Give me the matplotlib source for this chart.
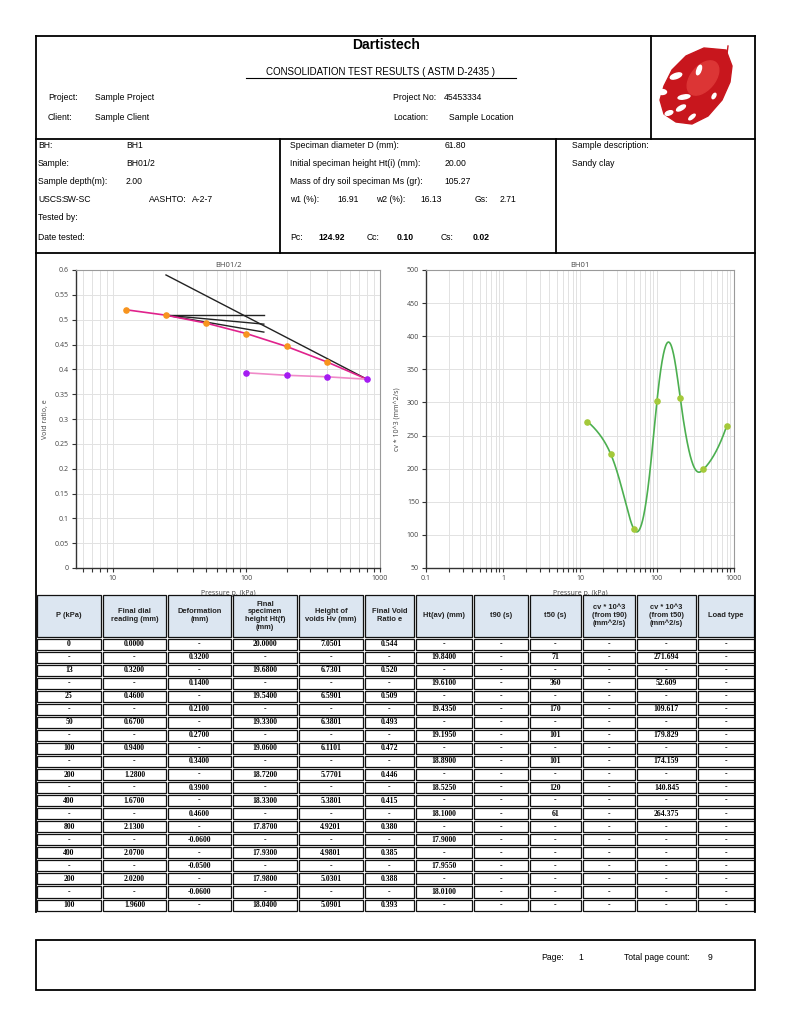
import numpy as np
import matplotlib
matplotlib.use('Agg')
import matplotlib.pyplot as plt
from matplotlib.patches import Rectangle, Ellipse, Polygon
from matplotlib.ticker import FixedLocator, FuncFormatter, LogLocator, NullFormatter

plt.rcParams['font.family'] = ['Liberation Sans Narrow', 'Liberation Sans', 'DejaVu Sans']

# ---- e - log p data ----
load_p = [12.5, 25, 50, 100, 200, 400, 800]
load_e = [0.520, 0.509, 0.493, 0.472, 0.446, 0.415, 0.380]
unload_p = [800, 400, 200, 100]
unload_e = [0.380, 0.385, 0.388, 0.393]
# Casagrande construction lines
vcl_p, vcl_e = [25, 800], [0.590, 0.380]
horiz_p, horiz_e = [25, 135], [0.509, 0.509]
tang_p, tang_e = [25, 135], [0.509, 0.475]
bisect_p, bisect_e = [25, 135], [0.509, 0.491]

# ---- cv data ----
cv_p = [12.5, 25, 50, 100, 200, 400, 800]
cv_vals = [271.2, 222.4, 108.8, 302.4, 306.9, 198.8, 263.7]

# ---- table ----
col_heads = ['P (kPa)', 'Final dial\nreading (mm)', 'Deformation\n(mm)',
             'Final\nspecimen\nheight Ht(f)\n(mm)', 'Height of\nvoids Hv (mm)',
             'Final Void\nRatio e', 'Ht(av) (mm)', 't90 (s)', 't50 (s)',
             'cv * 10^3\n(from t90)\n(mm^2/s)', 'cv * 10^3\n(from t50)\n(mm^2/s)',
             'Load type']
col_p = ['0', '-', '13', '-', '25', '-', '50', '-', '100', '-', '200', '-', '400',
         '-', '800', '-', '400', '-', '200', '-', '100']
col_dial = ['0.0000', '-', '0.3200', '-', '0.4600', '-', '0.6700', '-', '0.9400', '-',
            '1.2800', '-', '1.6700', '-', '2.1300', '-', '2.0700', '-', '2.0200', '-', '1.9600']
col_def = ['-', '0.3200', '-', '0.1400', '-', '0.2100', '-', '0.2700', '-', '0.3400', '-',
           '0.3900', '-', '0.4600', '-', '-0.0600', '-', '-0.0500', '-', '-0.0600', '-']
col_htf = ['20.0000', '-', '19.6800', '-', '19.5400', '-', '19.3300', '-', '19.0600', '-',
           '18.7200', '-', '18.3300', '-', '17.8700', '-', '17.9300', '-', '17.9800', '-', '18.0400']
col_hv = ['7.0501', '-', '6.7301', '-', '6.5901', '-', '6.3801', '-', '6.1101', '-',
          '5.7701', '-', '5.3801', '-', '4.9201', '-', '4.9801', '-', '5.0301', '-', '5.0901']
col_e = ['0.544', '-', '0.520', '-', '0.509', '-', '0.493', '-', '0.472', '-', '0.446', '-',
         '0.415', '-', '0.380', '-', '0.385', '-', '0.388', '-', '0.393']
col_htav = ['-', '19.8400', '-', '19.6100', '-', '19.4350', '-', '19.1950', '-', '18.8900', '-',
            '18.5250', '-', '18.1000', '-', '17.9000', '-', '17.9550', '-', '18.0100', '-']
col_t90 = ['-'] * 21
col_t50 = ['-', '71', '-', '360', '-', '170', '-', '101', '-', '101', '-', '120', '-', '61',
           '-', '-', '-', '-', '-', '-', '-']
col_cv90 = ['-'] * 21
col_cv50 = ['-', '271.694', '-', '52.609', '-', '109.617', '-', '179.829', '-', '174.159', '-',
            '140.845', '-', '264.375', '-', '-', '-', '-', '-', '-', '-']
col_load = ['-'] * 21
table_cols = [col_p, col_dial, col_def, col_htf, col_hv, col_e, col_htav,
              col_t90, col_t50, col_cv90, col_cv50, col_load]


def natural_spline(x, y, xs):
    x = np.asarray(x, float)
    y = np.asarray(y, float)
    n = len(x)
    h = np.diff(x)
    A = np.zeros((n, n))
    r = np.zeros(n)
    A[0, 0] = A[-1, -1] = 1
    for i in range(1, n - 1):
        A[i, i - 1] = h[i - 1]
        A[i, i] = 2 * (h[i - 1] + h[i])
        A[i, i + 1] = h[i]
        r[i] = 6 * ((y[i + 1] - y[i]) / h[i] - (y[i] - y[i - 1]) / h[i - 1])
    M = np.linalg.solve(A, r)
    idx = np.clip(np.searchsorted(x, xs) - 1, 0, n - 2)
    x0, x1 = x[idx], x[idx + 1]
    hh = x1 - x0
    t0, t1 = x1 - xs, xs - x0
    return ((M[idx] * t0 ** 3 + M[idx + 1] * t1 ** 3) / (6 * hh)
            + (y[idx] / hh - M[idx] * hh / 6) * t0
            + (y[idx + 1] / hh - M[idx + 1] * hh / 6) * t1)


W, H = 791, 1024
fig = plt.figure(figsize=(W / 100, H / 100), dpi=100)


def style_chart(ax):
    ax.set_xscale('log')
    ax.xaxis.set_major_locator(LogLocator(base=10, numticks=12))
    ax.xaxis.set_minor_locator(LogLocator(base=10, subs=np.arange(2, 10), numticks=12))
    ax.xaxis.set_minor_formatter(NullFormatter())
    ax.xaxis.set_major_formatter(FuncFormatter(lambda v, _: '%g' % v))
    ax.grid(True, which='both', axis='x', color='#e2e2e2', lw=0.7)
    ax.grid(True, which='major', axis='y', color='#e2e2e2', lw=0.7)
    ax.set_axisbelow(True)
    ax.tick_params(which='both', direction='out', length=3, width=0.8,
                   color='#333333', labelsize=5, labelcolor='#444444', pad=2)
    for s in ['top', 'right']:
        ax.spines[s].set_color('#9a9a9a')
        ax.spines[s].set_linewidth(0.8)
    for s in ['left', 'bottom']:
        ax.spines[s].set_color('#333333')
        ax.spines[s].set_linewidth(1.0)


def label_fonts(ax):
    for lab in ax.get_xticklabels() + ax.get_yticklabels():
        lab.set_fontfamily('Open Sans')


# ---- left chart: e - log p ----
axL = fig.add_axes([76 / W, 1 - 568 / H, 304 / W, 298 / H])
axL.plot(vcl_p, vcl_e, color='#222222', lw=1.0, zorder=3)
axL.plot(horiz_p, horiz_e, color='#222222', lw=1.0, zorder=3)
axL.plot(tang_p, tang_e, color='#222222', lw=1.0, zorder=3)
axL.plot(bisect_p, bisect_e, color='#222222', lw=1.0, zorder=3)
axL.plot(load_p, load_e, color='#e0228c', lw=1.2, zorder=4)
axL.plot(unload_p, unload_e, color='#f08ac8', lw=1.2, zorder=4)
axL.scatter(load_p[:-1], load_e[:-1], s=14, color='#f7941d', zorder=5)
axL.scatter(unload_p, unload_e, s=14, color='#a41bf2', zorder=5)
style_chart(axL)
axL.set_xlim(5.3, 1000)
axL.set_ylim(0, 0.6)
axL.yaxis.set_major_locator(FixedLocator(np.arange(0, 0.601, 0.05)))
axL.yaxis.set_major_formatter(FuncFormatter(lambda v, _: '%g' % round(v, 2)))
label_fonts(axL)
axL.set_title('BH01/2', fontsize=5.5, pad=2, color='#444444', fontfamily='Open Sans')
axL.set_xlabel('Pressure p, (kPa)', fontsize=5, labelpad=6, color='#444444', fontfamily='Open Sans')
axL.set_ylabel('Void ratio, e', fontsize=5, labelpad=4, color='#444444', fontfamily='Open Sans')

# ---- right chart: cv ----
axR = fig.add_axes([426 / W, 1 - 568 / H, 308 / W, 298 / H])
ps = np.logspace(np.log10(cv_p[0]), np.log10(cv_p[-1]), 400)
axR.plot(ps, natural_spline(cv_p, cv_vals, ps), color='#4caf50', lw=1.2, zorder=4)
axR.scatter(cv_p, cv_vals, s=14, color='#a4c93a', zorder=5)
style_chart(axR)
axR.set_xlim(0.1, 1000)
axR.set_ylim(50, 500)
axR.yaxis.set_major_locator(FixedLocator(np.arange(50, 501, 50)))
axR.yaxis.set_major_formatter(FuncFormatter(lambda v, _: '%d' % v))
label_fonts(axR)
axR.set_title('BH01', fontsize=5.5, pad=2, color='#444444', fontfamily='Open Sans')
axR.set_xlabel('Pressure p, (kPa)', fontsize=5, labelpad=6, color='#444444', fontfamily='Open Sans')
axR.set_ylabel('cv * 10^3 (mm^2/s)', fontsize=5, labelpad=4, color='#444444', fontfamily='Open Sans')

# ---- page overlay ----
page = fig.add_axes([0, 0, 1, 1], zorder=10)
page.set_xlim(0, W)
page.set_ylim(H, 0)
page.axis('off')

blw = 1.3


def hline(x0, x1, y, lw=blw):
    page.plot([x0, x1], [y, y], color='black', lw=lw, solid_capstyle='projecting')


def vline(x, y0, y1, lw=blw):
    page.plot([x, x], [y0, y1], color='black', lw=lw, solid_capstyle='projecting')


def txt(x, y, s, size=6.2, **kw):
    page.text(x, y, s, fontsize=size, va='center', ha=kw.pop('ha', 'left'), **kw)


# frame
hline(36, 755, 36)
hline(36, 755, 139)
hline(36, 755, 253)
vline(36, 36, 912)
vline(755, 36, 912)
vline(651, 36, 139)
vline(280, 139, 253)
vline(556, 139, 253)

# header
txt(386, 45, 'Dartistech', size=10, weight='bold', ha='center')
txt(381, 72, 'CONSOLIDATION TEST RESULTS ( ASTM D-2435 )', size=7, ha='center')
hline(246, 516, 77.5, lw=0.8)
txt(48, 97, 'Project:')
txt(95, 97, 'Sample Project')
txt(48, 117, 'Client:')
txt(95, 117, 'Sample Client')
txt(393, 97, 'Project No:')
txt(444, 97, '45453334')
txt(393, 117, 'Location:')
txt(449, 117, 'Sample Location')

# logo (red leaf)
leaf = [(726, 50), (732, 66), (730, 82), (722, 100), (708, 116), (692, 124),
        (676, 122), (664, 114), (660, 100), (664, 86), (672, 70), (686, 56), (704, 48)]
page.add_patch(Polygon(leaf, closed=True, color='#c8161d'))
page.add_patch(Ellipse((703, 78), 40, 24, angle=-50, color='#dc3535'))
for (hx, hy, hw, hh, ha) in [(676, 76, 12, 5, -20), (699, 70, 10, 4, -70),
                             (684, 97, 12, 4, -10), (681, 108, 10, 4, -30),
                             (692, 117, 8, 3, -40), (714, 96, 6, 3, -60),
                             (662, 92, 9, 5, 0), (669, 113, 8, 4, -20)]:
    page.add_patch(Ellipse((hx, hy), hw, hh, angle=ha, color='white'))
page.plot([726, 728], [62, 46], color='#c8161d', lw=1)

# info block
rows_y = [145, 163, 181, 200, 218, 237]
txt(38, rows_y[0], 'BH:')
txt(126, rows_y[0], 'BH1')
txt(38, rows_y[1], 'Sample:')
txt(126, rows_y[1], 'BH01/2')
txt(38, rows_y[2], 'Sample depth(m):')
txt(126, rows_y[2], '2.00')
txt(38, rows_y[3], 'USCS:')
txt(63, rows_y[3], 'SW-SC')
txt(149, rows_y[3], 'AASHTO:')
txt(192, rows_y[3], 'A-2-7')
txt(38, rows_y[4], 'Tested by:')
txt(38, rows_y[5], 'Date tested:')

txt(290, rows_y[0], 'Speciman diameter D (mm):')
txt(445, rows_y[0], '61.80')
txt(290, rows_y[1], 'Initial speciman height Ht(i) (mm):')
txt(445, rows_y[1], '20.00')
txt(290, rows_y[2], 'Mass of dry soil speciman Ms (gr):')
txt(444, rows_y[2], '105.27')
txt(290, rows_y[3], 'w1 (%):')
txt(337, rows_y[3], '16.91')
txt(376, rows_y[3], 'w2 (%):')
txt(420, rows_y[3], '16.13')
txt(475, rows_y[3], 'Gs:')
txt(500, rows_y[3], '2.71')
txt(290, rows_y[5], 'Pc:')
txt(318, rows_y[5], '124.92', weight='bold')
txt(367, rows_y[5], 'Cc:')
txt(397, rows_y[5], '0.10', weight='bold')
txt(441, rows_y[5], 'Cs:')
txt(473, rows_y[5], '0.02', weight='bold')

txt(572, rows_y[0], 'Sample description:')
txt(572, rows_y[1], 'Sandy clay')

# table
col_edges = [36, 102, 167, 232, 298, 364, 415, 473, 529, 582, 636, 697, 755]
head_top, head_bot = 594, 637.5
row_h = 13.05
ins = 1.0
for j, head in enumerate(col_heads):
    x0, x1 = col_edges[j], col_edges[j + 1]
    page.add_patch(Rectangle((x0 + ins, head_top + ins), x1 - x0 - 2 * ins,
                             head_bot - head_top - 2 * ins, facecolor='#dce6f1',
                             edgecolor='#111111', lw=0.9))
    page.text((x0 + x1) / 2, (head_top + head_bot) / 2, head, fontsize=5.4,
              ha='center', va='center', linespacing=1.15, weight='bold', color='#222222')
for j, col in enumerate(table_cols):
    x0, x1 = col_edges[j], col_edges[j + 1]
    for i, val in enumerate(col):
        y0 = head_bot + i * row_h
        page.add_patch(Rectangle((x0 + ins, y0 + ins), x1 - x0 - 2 * ins, row_h - 2 * ins,
                                 facecolor='white', edgecolor='#111111', lw=0.9))
        page.text((x0 + x1) / 2, y0 + row_h / 2, val, fontsize=5.6, ha='center',
                  va='center', weight='bold', family=['Liberation Serif', 'DejaVu Serif'])

# footer
page.add_patch(Rectangle((36, 940), 719, 50, facecolor='none', edgecolor='black', lw=blw))
txt(541, 957, 'Page:')
txt(578, 957, '1')
txt(624, 957, 'Total page count:')
txt(708, 957, '9')

fig.savefig('out.png', dpi=100)
